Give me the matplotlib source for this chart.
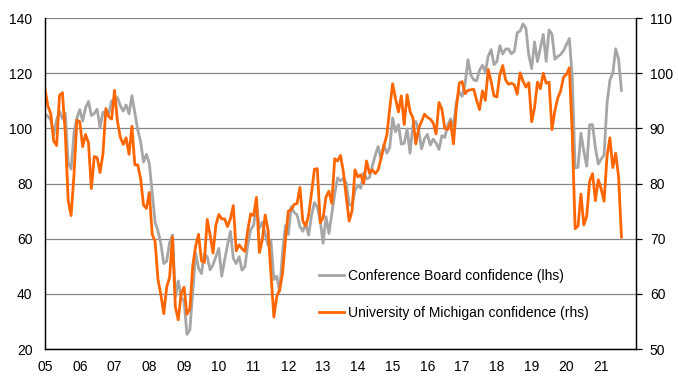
import numpy as np
import matplotlib
matplotlib.use("Agg")
import matplotlib.pyplot as plt

plt.rcParams['font.family'] = ['Liberation Sans', 'DejaVu Sans']

## Data (monthly, Jan 2005 - Aug 2021)
conf_board = [
    # 2005
    105.1, 104.4, 103.0, 97.5, 103.1, 106.2, 103.6, 105.5, 87.5, 85.2, 98.3, 103.8,
    # 2006
    106.8, 102.7, 107.5, 109.8, 104.7, 105.4, 107.0, 100.2, 105.9, 105.1, 105.3, 110.0,
    # 2007
    110.2, 111.2, 108.2, 106.3, 108.5, 105.3, 111.9, 105.6, 99.5, 95.2, 87.8, 90.6,
    # 2008
    87.3, 76.4, 65.9, 62.8, 58.1, 51.0, 51.9, 58.5, 61.4, 38.8, 44.7, 38.6,
    # 2009
    37.4, 25.3, 26.9, 40.8, 54.8, 49.3, 47.4, 54.5, 53.4, 48.7, 50.6, 53.6,
    # 2010
    56.5, 46.4, 52.3, 57.7, 62.7, 52.9, 51.0, 53.5, 48.6, 49.9, 57.8, 63.4,
    # 2011
    64.8, 72.0, 63.8, 66.0, 61.7, 57.6, 59.2, 45.2, 46.4, 40.9, 55.2, 64.8,
    # 2012
    61.5, 71.6, 69.5, 68.7, 64.4, 62.7, 65.4, 61.3, 68.4, 73.1, 71.5, 66.7,
    # 2013
    58.4, 68.0, 61.9, 69.0, 76.2, 82.1, 81.0, 81.8, 80.2, 72.4, 72.0, 77.5,
    # 2014
    79.4, 78.3, 83.9, 81.7, 82.2, 86.4, 90.3, 93.4, 89.0, 94.1, 91.0, 93.1,
    # 2015
    103.8, 98.8, 101.4, 94.3, 94.6, 99.8, 91.0, 101.3, 102.6, 99.1, 92.6, 96.3,
    # 2016
    97.8, 94.0, 96.1, 94.7, 92.4, 97.4, 96.7, 101.1, 103.5, 100.8, 109.4, 113.3,
    # 2017
    111.6, 116.1, 124.9, 119.4, 117.6, 117.3, 121.1, 122.9, 120.6, 126.2, 128.6, 123.1,
    # 2018
    124.3, 130.0, 127.0, 128.8, 128.8, 127.1, 127.9, 134.7, 135.3, 137.9, 136.4, 126.6,
    # 2019
    121.7, 131.4, 124.2, 129.2, 134.1, 124.3, 135.7, 134.2, 125.1, 126.1, 126.8, 128.2,
    # 2020
    130.4, 132.6, 118.8, 85.7, 85.9, 98.3, 91.7, 86.3, 101.3, 101.4, 92.9, 87.1,
    # 2021
    88.9, 90.4, 109.0, 117.5, 120.0, 128.9, 125.1, 113.8,
]

michigan = [
    # 2005
    97.1, 94.1, 92.6, 87.7, 86.9, 96.0, 96.5, 89.1, 76.9, 74.2, 81.6, 91.5,
    # 2006
    91.2, 86.7, 88.9, 87.4, 79.1, 84.9, 84.7, 82.0, 85.4, 93.6, 92.1, 91.7,
    # 2007
    96.9, 91.3, 88.4, 87.1, 88.3, 85.3, 90.4, 83.4, 83.4, 80.9, 76.1, 75.5,
    # 2008
    78.4, 70.8, 69.5, 62.6, 59.8, 56.4, 61.2, 63.0, 70.3, 57.6, 55.3, 60.1,
    # 2009
    61.2, 56.3, 57.3, 65.1, 68.7, 70.8, 66.0, 65.7, 73.5, 70.6, 67.4, 72.5,
    # 2010
    74.4, 73.6, 73.6, 72.2, 73.6, 76.0, 67.8, 68.9, 68.2, 67.7, 71.6, 74.5,
    # 2011
    74.2, 77.5, 67.5, 69.8, 74.3, 71.5, 63.7, 55.8, 59.5, 60.8, 63.7, 69.9,
    # 2012
    75.0, 75.3, 76.2, 76.4, 79.3, 73.2, 72.3, 74.3, 78.3, 82.6, 82.7, 72.9,
    # 2013
    73.8, 77.6, 78.6, 76.4, 84.5, 84.1, 85.1, 82.1, 77.5, 73.2, 75.1, 82.5,
    # 2014
    81.2, 81.6, 80.0, 84.1, 81.9, 82.5, 81.8, 82.5, 84.6, 86.9, 88.8, 93.6,
    # 2015
    98.1, 95.4, 93.0, 95.9, 90.7, 96.1, 93.1, 91.9, 87.2, 90.0, 91.3, 92.6,
    # 2016
    92.0, 91.7, 91.0, 89.0, 94.7, 93.5, 90.0, 89.8, 91.2, 87.2, 93.8, 98.2,
    # 2017
    98.5, 96.3, 96.9, 97.0, 97.1, 95.1, 93.4, 96.8, 95.1, 100.7, 98.5, 95.9,
    # 2018
    95.7, 99.7, 101.4, 98.8, 98.0, 98.2, 97.9, 96.2, 100.1, 98.6, 97.5, 98.3,
    # 2019
    91.2, 93.8, 98.4, 97.2, 100.0, 98.2, 98.4, 89.8, 93.2, 95.5, 96.8, 99.3,
    # 2020
    99.8, 101.0, 89.1, 71.8, 72.3, 78.1, 72.5, 74.1, 80.4, 81.8, 76.9, 80.7,
    # 2021
    79.0, 76.8, 84.9, 88.3, 82.9, 85.5, 81.2, 70.3,
]

years = list(range(2005, 2022))
year_labels = [f"{y % 100:02d}" for y in years]

x = 2005 + np.arange(len(conf_board)) / 12.0

fig = plt.figure(figsize=(6.78, 3.84), dpi=100)
ax = fig.add_axes([0.0664, 0.0911, 0.8716, 0.8617])
ax2 = ax.twinx()

l1, = ax.plot(x, conf_board, color="#A6A6A6", lw=2.0,
              label="Conference Board confidence (lhs)")
l2, = ax2.plot(x, michigan, color="#FF6600", lw=2.0,
               label="University of Michigan confidence (rhs)")

# axes / ticks
ax.set_xlim(2005, 2022)
ax.set_ylim(20, 140)
ax.set_yticks(range(20, 141, 20))
ax2.set_ylim(50, 110)
ax2.set_yticks(range(50, 111, 10))
ax.set_xticks(years)
ax.set_xticklabels(year_labels)

ax.yaxis.grid(True, color="#868686", lw=0.9)
ax.set_axisbelow(True)

ax.tick_params(axis="y", length=0, pad=9, labelsize=10)
ax.tick_params(axis="x", length=0, pad=8, labelsize=10)
ax2.tick_params(axis="y", length=4, width=0.9, direction="out", pad=6, labelsize=10)

for a in (ax, ax2):
    a.spines["top"].set_visible(False)
    for s in ("left", "bottom", "right"):
        a.spines[s].set_color("black")
        a.spines[s].set_linewidth(0.9)

ax2.legend(handles=[l1, l2], loc="upper left", bbox_to_anchor=(0.455, 0.259),
           frameon=False, fontsize=10, handlelength=1.8, handletextpad=0.25,
           labelspacing=1.65, borderaxespad=0)

plt.savefig("out.png", dpi=100)
